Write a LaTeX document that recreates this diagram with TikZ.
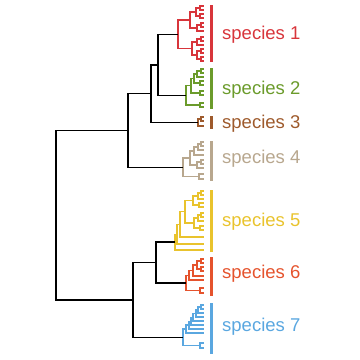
\documentclass[tikz,border=0pt]{standalone}
\usepackage{fontspec}
\setmainfont{Liberation Sans}
\definecolor{cA}{HTML}{D8353B}
\definecolor{cB}{HTML}{6B9B2B}
\definecolor{cC}{HTML}{9E5A2C}
\definecolor{cD}{HTML}{B8A78E}
\definecolor{cE}{HTML}{E9C32D}
\definecolor{cF}{HTML}{E5532D}
\definecolor{cG}{HTML}{5AA7E0}
\newcommand{\fk}[6][]{\draw[#1] (#4,#3) -- (#2,#3) -- (#2,#5) -- (#6,#5);}
\tikzset{
  bb/.style={line width=1.5pt, black, line join=miter},
  br/.style={line width=1.2pt, line join=miter},
  bar/.style={line width=3.5pt},
  lab/.style={anchor=base west, inner sep=0pt, font=\fontsize{18.5}{20}\selectfont}
}
\begin{document}
\begin{tikzpicture}[x=1pt,y=-1pt]
\useasboundingbox (0,0) rectangle (360,360);
% ---- species 1 ----
\begin{scope}[br, cA]
\fk{200}{6}{204}{10}{204}
\fk{200}{14}{204}{18}{204}
\fk{196}{8}{200}{16}{200}
\fk{201}{23}{204}{27}{204}
\fk{197}{25}{201}{31}{204}
\fk{190}{12}{196}{28}{197}
\fk{201}{37}{204}{41}{204}
\fk{197}{39}{201}{45}{204}
\fk{201}{49}{204}{53}{204}
\fk{201}{57}{204}{61}{204}
\fk{197}{51}{201}{59}{201}
\fk{192}{42}{197}{55}{197}
\fk{178}{20}{190}{48.5}{192}
\end{scope}
% ---- species 2 ----
\begin{scope}[br, cB]
\fk{201}{69}{204}{73}{204}
\fk{197}{71}{201}{77}{204}
\fk{200}{81}{204}{85}{204}
\fk{200}{91}{204}{95}{204}
\fk{200}{103}{204}{107}{204}
\fk{194}{74}{197}{83}{200}
\fk{191}{78.5}{194}{93}{200}
\fk{186}{85.75}{191}{105}{200}
\end{scope}
% ---- species 3 ----
\begin{scope}[br, cC]
\fk{201}{117}{204}{121}{204}
\fk{198}{119}{201}{126}{204}
\end{scope}
% ---- species 4 ----
\begin{scope}[br, cD]
\fk{201}{142}{204}{146}{204}
\fk{198}{144}{201}{150}{204}
\fk{194}{147}{198}{155}{204}
\fk{201}{160}{204}{164}{204}
\fk{197}{162}{201}{168}{204}
\fk{190}{151}{194}{165}{197}
\fk{199}{174}{204}{179}{204}
\fk{183}{158}{190}{176.5}{199}
\end{scope}
% ---- species 5 ----
\begin{scope}[br, cE]
\fk{201}{191}{204}{195}{204}
\fk{198}{193}{201}{199}{204}
\fk{199}{203}{204}{207}{204}
\fk{193}{196}{198}{205}{199}
\fk{201}{213}{204}{217}{204}
\fk{198}{215}{201}{221}{204}
\fk{200}{226}{204}{230}{204}
\fk{194}{218}{198}{228}{200}
\fk{185}{200.5}{193}{223}{194}
\fk{180}{211.75}{185}{237}{204}
\fk{177}{224.4}{180}{244}{204}
\fk{175}{234.2}{177}{250}{204}
\end{scope}
% ---- species 6 ----
\begin{scope}[br, cF]
\fk{201}{259}{204}{263}{204}
\fk{201}{267}{204}{271}{204}
\fk{197}{261}{201}{269}{201}
\fk{193}{265}{197}{276}{204}
\fk{189}{270.5}{193}{280}{204}
\fk{200}{288}{204}{293}{204}
\fk{186}{275.25}{189}{290.5}{200}
\end{scope}
% ---- species 7 ----
\begin{scope}[br, cG]
\fk{201}{305}{204}{309}{204}
\fk{198}{307}{201}{313}{204}
\fk{196}{310}{198}{317}{204}
\fk{193}{313.5}{196}{321}{204}
\fk{191}{317.25}{193}{325}{204}
\fk{189}{321.1}{191}{329}{204}
\fk{186}{325}{189}{333}{204}
\fk{200}{343}{204}{348}{204}
\fk{183}{329}{186}{345.5}{200}
\end{scope}
% ---- backbone ----
\fk[bb]{158}{34.25}{178}{95.4}{186}
\fk[bb]{151}{64.8}{158}{122.5}{198}
\fk[bb]{128}{93.7}{151}{167.25}{183}
\fk[bb]{156}{242.1}{175}{282.9}{186}
\fk[bb]{133}{262.5}{156}{337.25}{183}
\fk[bb]{56}{130.5}{128}{299.9}{133}
% ---- bars ----
\draw[bar, cA] (211.5,5) -- (211.5,62);
\draw[bar, cB] (211.5,68) -- (211.5,109);
\draw[bar, cC] (211.5,116) -- (211.5,129);
\draw[bar, cD] (211.5,141) -- (211.5,181);
\draw[bar, cE] (211.5,190) -- (211.5,252);
\draw[bar, cF] (211.5,257) -- (211.5,296);
\draw[bar, cG] (211.5,303) -- (211.5,354);
% ---- labels ----
\node[lab, cA] (l1) at (222,39.5) {species 1};
\node[lab, cB] (l2) at (222,94.5) {species 2};
\node[lab, cC] (l3) at (222,128.5) {species 3};
\node[lab, cD] (l4) at (222,163.5) {species 4};
\node[lab, cE] (l5) at (222,226.5) {species 5};
\node[lab, cF] (l6) at (222,278.5) {species 6};
\node[lab, cG] (l7) at (222,331.5) {species 7};
\end{tikzpicture}
\end{document}
